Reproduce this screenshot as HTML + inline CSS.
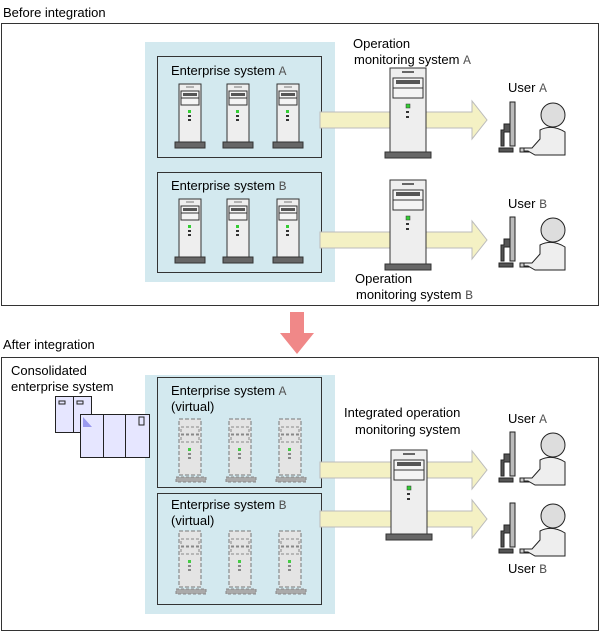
<!DOCTYPE html>
<html><head><meta charset="utf-8"><style>
body{margin:0;background:#fff}
svg{display:block;font-family:"Liberation Sans",Arial,sans-serif;font-size:13px;fill:#000}
.m{font-family:"Liberation Mono",monospace;fill:#555}
</style></head><body>
<svg width="601" height="633" viewBox="0 0 601 633">
<defs>
<g id="srv">
<rect x="0" y="0" width="22" height="58" fill="#eee" stroke="#333" stroke-width="1"/>
<line x1="7" y1="3" x2="15" y2="3" stroke="#777"/>
<rect x="2" y="7" width="18" height="7" fill="#f4f4f4" stroke="#333"/>
<rect x="4" y="9" width="14" height="3" fill="#555"/>
<rect x="2" y="14" width="18" height="7" fill="#f4f4f4" stroke="#333"/>
<rect x="9" y="26" width="3" height="3" fill="#3c3"/>
<rect x="9" y="31" width="3" height="2" fill="#333"/>
<rect x="9" y="35" width="3" height="2" fill="#333"/>
<rect x="-4" y="58" width="30" height="6" fill="#666" stroke="#333"/>
</g>
<g id="vsrv">
<rect x="0" y="0" width="22" height="56" fill="#e4e4e4" stroke="#777" stroke-dasharray="4,2"/>
<rect x="2" y="8" width="18" height="7" fill="none" stroke="#888" stroke-dasharray="3,2"/>
<rect x="2" y="16" width="18" height="7" fill="none" stroke="#888" stroke-dasharray="3,2"/>
<rect x="9" y="29" width="3" height="3" fill="#4c4"/>
<rect x="9" y="34" width="3" height="2" fill="#888"/>
<rect x="9" y="38" width="3" height="2" fill="#888"/>
<rect x="-3" y="58" width="30" height="5" fill="#aaa" stroke="#888" stroke-dasharray="3,2"/>
</g>
<g id="bsrv">
<rect x="0" y="0" width="36" height="84" fill="#eee" stroke="#333"/>
<line x1="12" y1="4" x2="24" y2="4" stroke="#666" stroke-width="2"/>
<rect x="3" y="10" width="30" height="10" fill="#f4f4f4" stroke="#333"/>
<rect x="6" y="12" width="24" height="4" fill="#555"/>
<rect x="3" y="20" width="30" height="10" fill="#f4f4f4" stroke="#333"/>
<rect x="16" y="36" width="4" height="4" fill="#3c3" stroke="#333" stroke-width=".5"/>
<rect x="16" y="43" width="3" height="2" fill="#333"/>
<rect x="16" y="48" width="3" height="2" fill="#333"/>
<rect x="-5" y="84" width="46" height="6" fill="#666" stroke="#333"/>
</g>
<g id="usr">
<rect x="12" y="-2" width="5" height="44" fill="#bbb" stroke="#222"/>
<path d="M12 20 h-6 v6 h-3 v16 h3 v-14 h6z" fill="#555" stroke="#222"/>
<rect x="1" y="44" width="14" height="4" fill="#555" stroke="#222"/>
<rect x="22" y="44" width="18" height="4" fill="#ccc" stroke="#222"/>
<circle cx="55" cy="11" r="12" fill="#ddd" stroke="#222"/>
<path d="M42 26 q12 -6 25 2 v23 h-30 l-7 -4 h-4 v-3 h8 l8 -9 z" fill="#eee" stroke="#222"/>
</g>
<g id="arr">
<path d="M0 -8 H152 V-19 L167 0 L152 19 V8 H0 z" fill="#f4f1c4" stroke="#bbb"/>
</g>
</defs>

<text x="3" y="17">Before integration</text>
<rect x="1.5" y="23.5" width="597" height="282" fill="#fff" stroke="#333"/>
<rect x="145" y="42" width="190" height="240" fill="#d3e9ef"/>
<rect x="157.5" y="56.5" width="164" height="101" fill="none" stroke="#333"/>
<text x="171" y="75">Enterprise system <tspan class="m">A</tspan></text>
<use href="#srv" x="179" y="84"/><use href="#srv" x="227" y="84"/><use href="#srv" x="277" y="84"/>
<rect x="157.5" y="172.5" width="164" height="100" fill="none" stroke="#333"/>
<text x="171" y="190">Enterprise system <tspan class="m">B</tspan></text>
<use href="#srv" x="179" y="199"/><use href="#srv" x="227" y="199"/><use href="#srv" x="277" y="199"/>

<use href="#arr" x="320" y="120"/>
<use href="#arr" x="320" y="240"/>
<use href="#bsrv" x="390" y="68"/>
<use href="#bsrv" x="390" y="180"/>
<text x="353" y="48">Operation</text>
<text x="354" y="64">monitoring system <tspan class="m">A</tspan></text>
<text x="355" y="283">Operation</text>
<text x="356" y="299">monitoring system <tspan class="m">B</tspan></text>
<text x="508" y="92">User <tspan class="m">A</tspan></text>
<use href="#usr" x="498" y="104"/>
<text x="508" y="208">User <tspan class="m">B</tspan></text>
<use href="#usr" x="498" y="219"/>

<path d="M290 312 H304 V333 H314 L297 354 L280 333 H290 z" fill="#f08888"/>

<text x="3" y="349">After integration</text>
<rect x="1.5" y="357.5" width="597" height="273" fill="#fff" stroke="#333"/>
<text x="11" y="375">Consolidated</text>
<text x="11" y="391">enterprise system</text>

<rect x="145" y="375" width="190" height="239" fill="#d3e9ef"/>
<rect x="157.5" y="377.5" width="164" height="110" fill="none" stroke="#333"/>
<text x="171" y="395">Enterprise system <tspan class="m">A</tspan></text>
<text x="171" y="411">(virtual)</text>
<use href="#vsrv" x="179" y="419"/><use href="#vsrv" x="229" y="419"/><use href="#vsrv" x="279" y="419"/>
<rect x="157.5" y="493.5" width="164" height="111" fill="none" stroke="#333"/>
<text x="171" y="509">Enterprise system <tspan class="m">B</tspan></text>
<text x="171" y="525">(virtual)</text>
<use href="#vsrv" x="179" y="531"/><use href="#vsrv" x="229" y="531"/><use href="#vsrv" x="279" y="531"/>

<rect x="55.5" y="396.5" width="18" height="36" fill="#e6e6ff" stroke="#222"/>
<rect x="73.5" y="396.5" width="18" height="36" fill="#e6e6ff" stroke="#222"/>
<rect x="59" y="401" width="6" height="3" fill="none" stroke="#222"/>
<rect x="77" y="401" width="6" height="3" fill="none" stroke="#222"/>
<rect x="80.5" y="414.5" width="69" height="43" fill="#e6e6ff" stroke="#222"/>
<line x1="103.5" y1="414.5" x2="103.5" y2="457.5" stroke="#222"/>
<line x1="125.5" y1="414.5" x2="125.5" y2="457.5" stroke="#222"/>
<path d="M83 417 L92 427 H83z" fill="#9999ee"/>
<rect x="139" y="417" width="5" height="8" fill="none" stroke="#222"/>

<use href="#arr" x="320" y="470"/>
<use href="#arr" x="320" y="519"/>
<use href="#bsrv" x="391" y="450"/>
<text x="344" y="417">Integrated operation</text>
<text x="355" y="434">monitoring system</text>
<text x="508" y="423">User <tspan class="m">A</tspan></text>
<use href="#usr" x="498" y="434"/>
<use href="#usr" x="498" y="505"/>
<text x="508" y="573">User <tspan class="m">B</tspan></text>
</svg>
</body></html>
